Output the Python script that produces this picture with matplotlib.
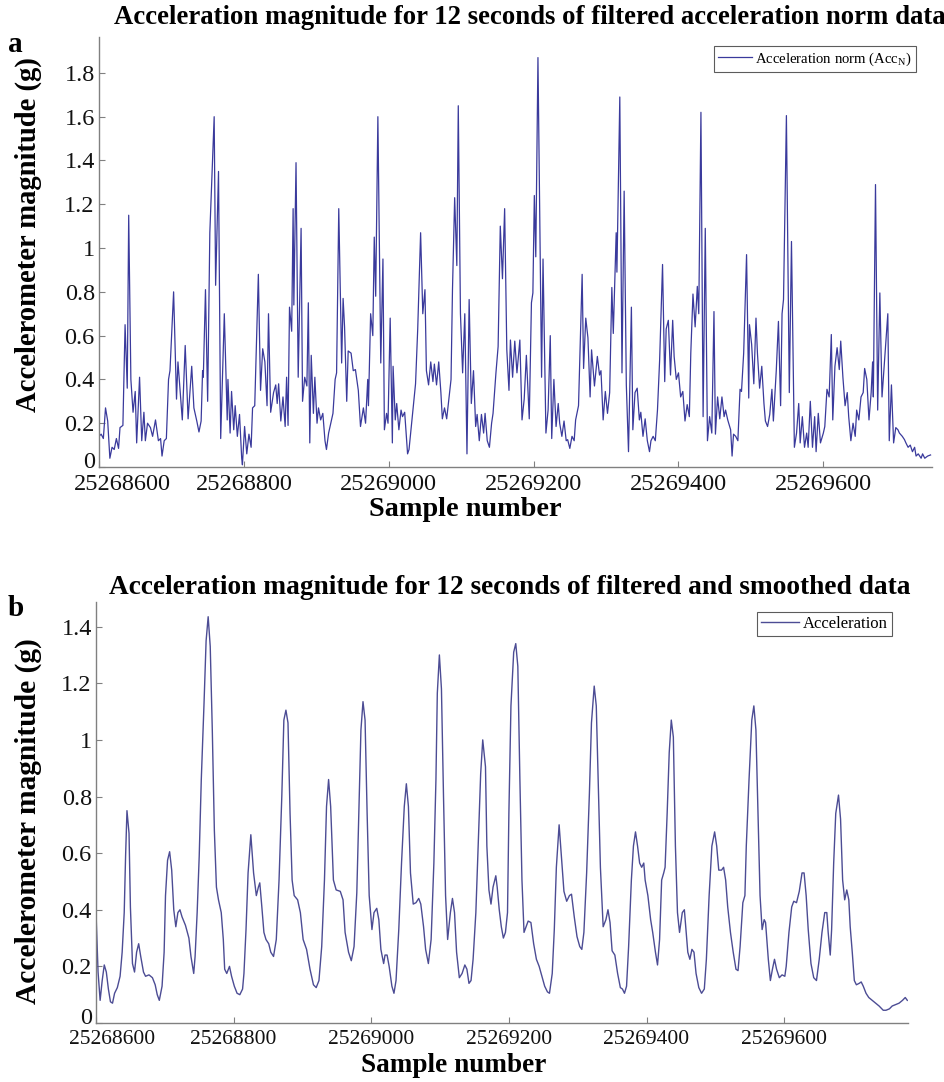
import numpy as np
import matplotlib
matplotlib.use('Agg')
import matplotlib.pyplot as plt
from matplotlib.ticker import FuncFormatter, FixedLocator
import matplotlib.transforms as mtransforms

plt.rcParams['font.family'] = ['Liberation Serif', 'DejaVu Serif']
plt.rcParams['mathtext.fontset'] = 'custom'
plt.rcParams['mathtext.rm'] = 'Liberation Serif'

START = 25268600

# ---- Panel a: filtered acceleration norm (sample offset from START, value in g)
a_offset = [0, 3, 6, 9, 12, 15, 18, 21, 24, 27, 29, 33, 36, 39, 41, 44, 47, 50, 52, 56,
            59, 62, 64, 67, 71, 74, 78, 82, 85, 87, 90, 93, 96, 98, 103, 107, 109, 115, 119, 123,
            128, 131, 135, 138, 141, 143, 144, 147, 150, 153, 159, 161, 165, 168, 173, 177, 178, 181, 183, 186,
            188, 191, 194, 197, 198, 201, 204, 207, 210, 212, 215, 220, 223, 226, 229, 232, 234, 237, 241, 244,
            246, 248, 251, 254, 257, 259, 261, 263, 266, 268, 269, 272, 275, 279, 281, 284, 287, 289,
            291, 293, 296, 298, 301, 303, 306, 309, 312, 314, 317, 320, 323, 326, 328, 331, 335, 337, 339, 342,
            344, 348, 351, 354, 358, 361, 365, 368, 371, 372, 375, 378, 380, 382, 385, 389, 392, 394, 397, 399,
            402, 405, 406, 409, 411, 414, 417, 419, 422, 426, 428, 433, 437, 440, 444, 447, 450, 452, 455, 458,
            461, 463, 466, 469, 472, 474, 477, 480, 483, 486, 488, 491, 494, 496, 499, 502, 505, 508, 511, 514,
            517, 520, 522, 525, 528, 531, 533, 536, 539, 542, 544, 548, 551, 554, 557, 560, 563, 566, 568, 571,
            574, 577, 581,
            584, 587, 590, 594, 597, 599, 601, 603, 606, 611, 613, 617, 620, 623, 625, 628, 631, 634, 636, 639,
            642, 645, 647, 650, 653, 656, 658, 662, 667, 669, 672, 675, 678, 680, 684, 688, 691, 693, 696, 699,
            702, 705, 708, 710, 714, 715, 719, 722, 725, 728, 731, 735, 737, 740, 743, 746, 748, 751, 754, 757,
            760, 762, 765, 768, 771, 774, 778, 781, 783, 786, 789, 792, 794, 797, 800, 803, 806, 809, 812, 815,
            817, 820, 823, 826, 828, 831, 834, 837, 840, 843, 846, 849, 851, 854, 857, 860, 863, 865, 868,
            872, 874, 876, 879, 882, 885, 887, 890, 894, 897, 898, 901, 904, 907, 909, 912, 915, 918, 920, 923,
            926, 929, 931, 935, 938, 941, 943, 945, 949, 953, 956, 960, 963, 966, 968, 971, 974, 977, 979, 982,
            985, 988, 990, 993, 996, 1000, 1002, 1005, 1008, 1011, 1013, 1016, 1019, 1022, 1024, 1027, 1030, 1033, 1035, 1038,
            1041, 1044, 1046, 1049, 1052, 1055, 1057, 1060, 1063, 1066, 1068, 1069, 1072, 1075, 1078, 1081, 1089, 1091, 1094, 1097,
            1100, 1103, 1105, 1109, 1112, 1114, 1117, 1120, 1123, 1126, 1128, 1131, 1135, 1137, 1140, 1144, 1148]
a_value = [0.14, 0.15, 0.13, 0.27, 0.21, 0.04, 0.09, 0.08, 0.13, 0.085, 0.18, 0.19, 0.65, 0.36, 1.15, 0.40, 0.25, 0.345, 0.11, 0.41,
           0.12, 0.25, 0.12, 0.20, 0.18, 0.14, 0.215, 0.12, 0.13, 0.05, 0.12, 0.13, 0.40, 0.44, 0.80, 0.31, 0.48, 0.215, 0.555, 0.22,
           0.46, 0.27, 0.21, 0.16, 0.21, 0.44, 0.41, 0.81, 0.30, 1.07, 1.60, 0.83, 1.35, 0.13, 0.70, 0.215, 0.40, 0.155, 0.345, 0.17,
           0.28, 0.14, 0.24, 0.04, 0.01, 0.185, 0.06, 0.15, 0.09, 0.27, 0.28, 0.88, 0.35, 0.54, 0.48, 0.28, 0.70, 0.25, 0.34, 0.375,
           0.29, 0.38, 0.21, 0.32, 0.185, 0.41, 0.19, 0.73, 0.62, 1.18, 0.74, 1.39, 0.41, 1.09, 0.30, 0.41, 0.37, 0.75,
           0.11, 0.51, 0.245, 0.41, 0.20, 0.27, 0.215, 0.245, 0.12, 0.08, 0.155, 0.20, 0.245, 0.40, 0.43, 1.18, 0.475, 0.77, 0.64, 0.30,
           0.53, 0.52, 0.44, 0.445, 0.35, 0.185, 0.27, 0.20, 0.40, 0.28, 0.70, 0.60, 1.05, 0.78, 1.60, 0.475, 0.95, 0.17, 0.245, 0.20,
           0.68, 0.11, 0.46, 0.215, 0.29, 0.17, 0.26, 0.23, 0.25, 0.06, 0.08, 0.245, 0.38, 0.63, 1.07, 0.70, 0.81, 0.44, 0.375, 0.48,
           0.39, 0.47, 0.375, 0.48, 0.34, 0.22, 0.27, 0.22, 0.31, 0.40, 0.81, 1.23, 0.92, 1.65, 0.70, 0.43, 0.70, 0.06, 0.765, 0.29,
           0.44, 0.185, 0.24, 0.12, 0.24, 0.155, 0.245, 0.12, 0.09, 0.20, 0.245, 0.43, 0.55, 1.10, 0.86, 1.18, 0.535, 0.35, 0.58, 0.41,
           0.575, 0.43, 0.58,
           0.215, 0.31, 0.51, 0.22, 0.75, 0.795, 1.24, 0.96, 1.87, 0.41, 0.95, 0.155, 0.26, 0.60, 0.13, 0.40, 0.185, 0.29, 0.20, 0.14,
           0.21, 0.12, 0.125, 0.085, 0.14, 0.12, 0.215, 0.28, 0.88, 0.45, 0.68, 0.59, 0.32, 0.535, 0.37, 0.505, 0.42, 0.44, 0.215, 0.345,
           0.245, 0.34, 0.82, 0.61, 1.07, 0.89, 1.69, 0.43, 1.26, 0.375, 0.07, 0.73, 0.17, 0.34, 0.36, 0.215, 0.25, 0.14, 0.22, 0.12,
           0.07, 0.12, 0.14, 0.12, 0.26, 0.49, 0.925, 0.39, 0.63, 0.67, 0.42, 0.67, 0.505, 0.40, 0.43, 0.32, 0.345, 0.21, 0.285, 0.23,
           0.52, 0.79, 0.64, 0.825, 0.70, 1.62, 0.23, 1.09, 0.12, 0.23, 0.155, 0.71, 0.15, 0.32, 0.22, 0.32, 0.23, 0.26, 0.215,
           0.17, 0.05, 0.15, 0.14, 0.12, 0.355, 0.345, 0.52, 0.97, 0.315, 0.65, 0.56, 0.38, 0.68, 0.52, 0.36, 0.46, 0.29, 0.21, 0.185,
           0.24, 0.355, 0.21, 0.44, 0.665, 0.28, 0.70, 0.765, 1.605, 0.34, 1.03, 0.09, 0.155, 0.29, 0.11, 0.23, 0.09, 0.155, 0.09, 0.30,
           0.09, 0.23, 0.07, 0.245, 0.11, 0.155, 0.185, 0.355, 0.32, 0.605, 0.215, 0.46, 0.545, 0.445, 0.575, 0.41, 0.28, 0.34, 0.23, 0.12,
           0.20, 0.14, 0.26, 0.215, 0.32, 0.34, 0.45, 0.40, 0.215, 0.34, 0.48, 0.32, 1.29, 0.26, 0.795, 0.32, 0.70, 0.12, 0.375, 0.11,
           0.18, 0.17, 0.155, 0.14, 0.125, 0.11, 0.09, 0.10, 0.07, 0.09, 0.05, 0.06, 0.04, 0.06, 0.04, 0.05, 0.055]

# ---- Panel b: filtered and smoothed acceleration
b_offset = [0, 3, 6, 9, 12, 15, 18, 21, 24, 27, 31, 35, 38, 41, 43, 45, 48, 50, 53, 56,
            59, 62, 65, 69, 72, 77, 82, 86, 89, 92, 96, 99, 101, 104, 107, 110, 113, 116, 119, 122,
            125, 130, 135, 138, 142, 144, 147, 150, 153, 157, 160, 163, 166, 169, 172, 175, 178, 182, 185, 187,
            190, 194, 197, 201, 205, 209, 213, 215, 218, 221, 225, 229, 233, 236, 238, 241, 244, 247, 251, 254,
            258, 262, 266, 270, 273, 276, 279, 282, 285, 288, 293, 297, 301, 306, 311, 316, 320, 324, 328, 332,
            335, 338, 341, 345, 349, 355, 359, 362, 367, 371, 375, 379,
            382, 385, 388, 391, 394, 397, 401, 404, 408, 411, 414, 418, 420, 423, 426, 430, 433, 436, 440, 444,
            448, 451, 454, 457, 461, 465, 469, 472, 476, 479, 483, 487, 491, 494, 496, 499, 502, 505, 508, 511,
            515, 518, 521, 524, 528, 532, 536, 539, 542, 545, 548, 552, 556, 559, 562, 566, 568, 571, 574, 577,
            581, 583, 586, 589, 592, 595, 598, 600, 603, 607, 610, 613, 616, 619, 622, 625, 628, 632, 636, 640,
            644, 648, 652, 656, 659, 663, 666, 669, 673, 676, 680, 684, 688, 691, 695, 699, 703, 706, 709, 713,
            717, 720, 724, 727, 730, 733, 737, 741, 744, 747, 750, 754, 758, 762,
            765, 768, 771, 774, 778, 781, 784, 787, 790, 793, 796, 798, 802, 806, 809, 813, 816, 819, 822, 825,
            827, 830, 833, 836, 839, 842, 845, 848, 852, 855, 857, 860, 863, 866, 869, 872, 876, 880, 884, 887,
            891, 895, 899, 902, 905, 909, 912, 915, 918, 922, 926, 930, 933, 936, 940, 943, 945, 949, 953, 956,
            959, 962, 965, 968, 971, 973, 977, 980, 983, 986, 989, 993, 997, 1001, 1003, 1007, 1011, 1014, 1018, 1022,
            1026, 1029, 1032, 1035, 1039, 1043, 1047, 1051, 1055, 1059, 1062, 1064, 1067, 1069, 1072, 1075, 1079, 1082, 1085, 1088,
            1091, 1094, 1096, 1099, 1102, 1105, 1109, 1112, 1115, 1119, 1123, 1128, 1133, 1138, 1144, 1148, 1153, 1157, 1162, 1167,
            1172, 1176, 1179]
b_value = [0.39, 0.18, 0.08, 0.15, 0.205, 0.18, 0.12, 0.075, 0.07, 0.105, 0.125, 0.165, 0.25, 0.39, 0.59, 0.75, 0.67, 0.41, 0.21, 0.18,
           0.25, 0.28, 0.235, 0.18, 0.165, 0.17, 0.16, 0.135, 0.10, 0.08, 0.13, 0.25, 0.45, 0.575, 0.605, 0.54, 0.40, 0.34, 0.39, 0.40,
           0.375, 0.345, 0.30, 0.235, 0.175, 0.235, 0.39, 0.59, 0.86, 1.13, 1.35, 1.435, 1.33, 1.035, 0.68, 0.48, 0.435, 0.39, 0.295, 0.19,
           0.175, 0.20, 0.165, 0.13, 0.105, 0.10, 0.12, 0.175, 0.33, 0.53, 0.665, 0.53, 0.45, 0.48, 0.495, 0.41, 0.32, 0.295, 0.28, 0.25,
           0.235, 0.295, 0.505, 0.80, 1.07, 1.105, 1.06, 0.74, 0.505, 0.45, 0.435, 0.39, 0.295, 0.26, 0.19, 0.135, 0.125, 0.15, 0.27, 0.505,
           0.765, 0.86, 0.765, 0.505, 0.47, 0.465, 0.435, 0.32, 0.25, 0.22, 0.27, 0.46,
           0.74, 1.035, 1.135, 1.07, 0.74, 0.45, 0.33, 0.39, 0.405, 0.365, 0.26, 0.21, 0.24, 0.24, 0.20, 0.13, 0.105, 0.15, 0.33, 0.565,
           0.765, 0.845, 0.765, 0.53, 0.42, 0.425, 0.44, 0.42, 0.34, 0.26, 0.21, 0.295, 0.565, 0.86, 1.165, 1.30, 1.18, 0.80, 0.45, 0.295,
           0.39, 0.44, 0.39, 0.25, 0.16, 0.175, 0.205, 0.19, 0.14, 0.15, 0.225, 0.39, 0.67, 0.88, 1.00, 0.905, 0.625, 0.47, 0.42, 0.48,
           0.52, 0.48, 0.40, 0.34, 0.30, 0.32, 0.39, 0.74, 1.12, 1.31, 1.34, 1.26, 0.86, 0.505, 0.32, 0.34, 0.36, 0.355, 0.28, 0.225,
           0.20, 0.165, 0.13, 0.11, 0.105, 0.175, 0.33, 0.55, 0.70, 0.60, 0.465, 0.43, 0.45, 0.455, 0.375, 0.305, 0.27, 0.26, 0.32, 0.53,
           0.81, 1.06, 1.19, 1.12, 0.835, 0.55, 0.34, 0.365, 0.40, 0.355, 0.255, 0.24, 0.175, 0.125,
           0.12, 0.105, 0.13, 0.27, 0.505, 0.625, 0.675, 0.625, 0.565, 0.55, 0.565, 0.505, 0.45, 0.365, 0.32, 0.25, 0.205, 0.295, 0.505, 0.53,
           0.55, 0.74, 0.955, 1.07, 1.01, 0.625, 0.39, 0.32, 0.39, 0.40, 0.34, 0.25, 0.225, 0.26, 0.25, 0.175, 0.125, 0.105, 0.12, 0.225,
           0.45, 0.625, 0.675, 0.625, 0.54, 0.54, 0.55, 0.505, 0.41, 0.32, 0.25, 0.19, 0.185, 0.27, 0.425, 0.45, 0.625, 0.86, 1.07, 1.12,
           1.035, 0.74, 0.45, 0.33, 0.365, 0.355, 0.225, 0.15, 0.19, 0.225, 0.19, 0.16, 0.17, 0.165, 0.20, 0.32, 0.41, 0.43, 0.425, 0.465,
           0.53, 0.53, 0.45, 0.33, 0.21, 0.16, 0.15, 0.225, 0.32, 0.39, 0.39, 0.32, 0.24, 0.33, 0.565, 0.74, 0.805, 0.72, 0.505, 0.435,
           0.47, 0.435, 0.34, 0.25, 0.15, 0.135, 0.14, 0.145, 0.13, 0.105, 0.09, 0.08, 0.07, 0.06, 0.045, 0.045, 0.05, 0.06, 0.065, 0.07,
           0.08, 0.09, 0.08]

x_ticks = [25268600, 25268800, 25269000, 25269200, 25269400, 25269600]
a_yticks = [0, 0.2, 0.4, 0.6, 0.8, 1.0, 1.2, 1.4, 1.6, 1.8]
b_yticks = [0, 0.2, 0.4, 0.6, 0.8, 1.0, 1.2, 1.4]
a_title = 'Acceleration magnitude for 12 seconds of filtered acceleration norm data'
b_title = 'Acceleration magnitude for 12 seconds of filtered and smoothed data'
y_label = 'Accelerometer magnitude (g)'
x_label = 'Sample number'
a_legend = r'Acceleration norm (Acc$_{\mathregular{N}}$)'
b_legend = 'Acceleration'

W, H = 944, 1082
fig = plt.figure(figsize=(W / 100, H / 100), dpi=100)


def px_axes(l, t, r, b):
    return fig.add_axes([l / W, 1 - b / H, (r - l) / W, (b - t) / H])


ax_a = px_axes(99, 37, 932, 467)
ax_b = px_axes(96, 602, 908, 1023)

AXC = '#808080'


def style(ax, xsize, ymax, xmax, yticks):
    for s in ['top', 'right']:
        ax.spines[s].set_visible(False)
    for s in ['left', 'bottom']:
        ax.spines[s].set_color(AXC)
        ax.spines[s].set_linewidth(1.0)
    ax.set_xlim(START, xmax)
    ax.set_ylim(0, ymax)
    ax.xaxis.set_major_locator(FixedLocator(x_ticks))
    ax.yaxis.set_major_locator(FixedLocator(yticks))
    ax.xaxis.set_major_formatter(FuncFormatter(lambda v, p: '%d' % round(v)))
    ax.yaxis.set_major_formatter(FuncFormatter(lambda v, p: '%g' % round(v, 2)))
    ax.tick_params(direction='in', length=4, width=0.8, color=AXC, labelcolor='#111111')
    ax.tick_params(axis='y', labelsize=17.5, pad=3)
    ax.tick_params(axis='x', labelsize=xsize, pad=5)


ax_a.plot(START + np.array(a_offset), a_value, color='#3a3a9c', lw=0.9, label=a_legend)
ax_b.plot(START + np.array(b_offset), b_value, color='#4c4c94', lw=1.0, label=b_legend)

style(ax_a, 17.5, 1.964, START + 1150, a_yticks)
style(ax_b, 15.5, 1.487, START + 1180, b_yticks)

la = ax_a.legend(loc='upper right', bbox_to_anchor=(0.981, 0.979), borderaxespad=0, fontsize=10.6,
                 frameon=True, fancybox=False, edgecolor='#333333', handlelength=2.3,
                 handletextpad=0.2, borderpad=0.3)
la.get_frame().set_linewidth(0.8)
lb = ax_b.legend(loc='upper right', bbox_to_anchor=(0.980, 0.976), borderaxespad=0, fontsize=12,
                 frameon=True, fancybox=False, edgecolor='#333333', handlelength=2.3,
                 handletextpad=0.2, borderpad=0.25)
lb.get_frame().set_linewidth(0.8)

for ax, yc in [(ax_a, -0.098), (ax_b, -0.1)]:
    ax.set_xlabel(x_label, fontsize=19, fontweight='bold')
    ax.set_ylabel(y_label, fontsize=19, fontweight='bold')
    ax.xaxis.set_label_coords(0.44, yc)
    ax.xaxis.label.set_va('center')
    ax.yaxis.label.set_va('center')
ax_a.yaxis.set_label_coords((28 - 99) / 833, 0.5 + 0.04)
ax_b.yaxis.set_label_coords((28 - 96) / 812, 0.5 - 0.02)

ta = fig.text(529.5 / W, 1 - 18 / H, a_title, ha='center', va='center', fontsize=18, fontweight='bold')
tb = fig.text(510 / W, 1 - 587 / H, b_title, ha='center', va='center', fontsize=18, fontweight='bold')
fig.text(15 / W, 1 - 45 / H, 'a', ha='center', va='center', fontsize=21, fontweight='bold')
fig.text(16 / W, 1 - 608 / H, 'b', ha='center', va='center', fontsize=21, fontweight='bold')

# shift first x tick label right and the "0" y label up, as in the reference
for ax, dx in [(ax_a, 23), (ax_b, 16)]:
    lab = ax.xaxis.get_major_ticks()[0].label1
    lab.set_transform(lab.get_transform() + mtransforms.Affine2D().translate(dx, 0))
    lab0 = ax.yaxis.get_major_ticks()[0].label1
    lab0.set_transform(lab0.get_transform() + mtransforms.Affine2D().translate(0, 7))

# fit text widths to the reference
fig.canvas.draw()
r = fig.canvas.get_renderer()
for t, target in [(ta, 829), (tb, 800), (ax_a.xaxis.label, 192), (ax_b.xaxis.label, 185)]:
    w = t.get_window_extent(r).width
    t.set_fontsize(t.get_fontsize() * target / w)
for t, target in [(ax_a.yaxis.label, 355), (ax_b.yaxis.label, 365)]:
    h = t.get_window_extent(r).height
    t.set_fontsize(t.get_fontsize() * target / h)

fig.savefig('out.png', dpi=100, facecolor='white')
